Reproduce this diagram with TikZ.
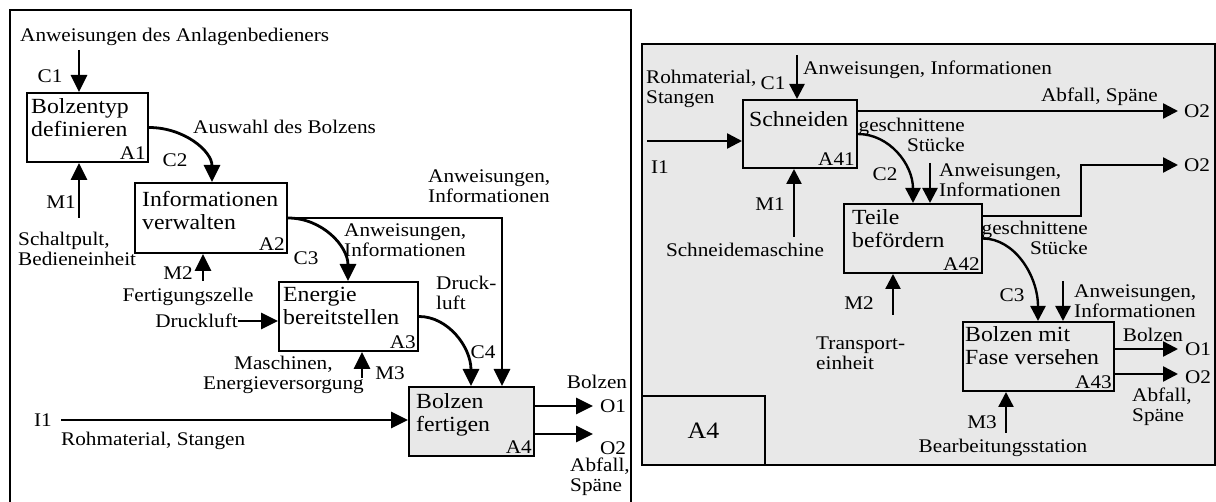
\documentclass[tikz,border=0pt]{standalone}
\usepackage{fontspec}
\setmainfont{Liberation Serif}[FakeStretch=1.1]
\usetikzlibrary{arrows.meta,calc}
\newcommand\lblfont{\fontsize{19.3}{20}\selectfont}
\newcommand\boxfont{\fontsize{21.6}{23}\selectfont}
\newcommand\tabfont{\fontsize{23.5}{25}\selectfont}
\definecolor{panelgray}{HTML}{E8E8E8}

\begin{document}
\begin{tikzpicture}[x=1pt,y=-1pt,
  pbox/.style={draw, line width=2pt, rectangle, inner sep=0pt},
  ptitle/.style={anchor=north west, align=left, inner sep=0pt, font=\boxfont},
  pnum/.style={anchor=south east, inner sep=0pt, font=\lblfont},
  lbl/.style={inner sep=0pt, font=\lblfont},
  arrL/.style={line width=2.8pt, -{Triangle[length=17pt,width=16pt]}},
  arrR/.style={line width=2.4pt, -{Triangle[length=15pt,width=15pt]}},
]
\useasboundingbox (0,0) rectangle (1216,502);

% ---------------- Left sheet: A0 overview ----------------
\draw[line width=1.6pt] (10,510) -- (10,10) -- (631,10) -- (631,510);

\node[pbox, minimum width=121pt, minimum height=69pt] (a1) at (87.5,127.5) {};
\node[pbox, minimum width=152pt, minimum height=70pt] (a2) at (211,218) {};
\node[pbox, minimum width=139pt, minimum height=69pt] (a3) at (348.5,316.5) {};
\node[pbox, minimum width=125pt, minimum height=69pt, fill=panelgray] (a4) at (471.5,421.5) {};

\node[ptitle] (a1t) at ($(a1.north west)+(5,6)$) {Bolzentyp\\definieren};
\node[ptitle] (a2t) at ($(a2.north west)+(8,9)$) {Informationen\\verwalten};
\node[ptitle] (a3t) at ($(a3.north west)+(5,6)$) {Energie\\bereitstellen};
\node[ptitle] (a4t) at ($(a4.north west)+(8,7)$) {Bolzen\\fertigen};
\node[pnum] (a1n) at ($(a1.south east)+(-3,-3)$) {A1};
\node[pnum] (a2n) at ($(a2.south east)+(-3,-3)$) {A2};
\node[pnum] (a3n) at ($(a3.south east)+(-3,-3)$) {A3};
\node[pnum] (a4n) at ($(a4.south east)+(-3,-3)$) {A4};

% labels
\node[lbl, anchor=west] (lc1t) at (20,37) {Anweisungen des Anlagenbedieners};
\node[lbl] (lc1) at (50,76) {C1};
\node[lbl] (lm1) at (61,202) {M1};
\node[lbl, anchor=west, align=left] (lm1t) at (18,249) {Schaltpult,\\Bedieneinheit};
\node[lbl, anchor=west] (lc2t) at (193,127) {Auswahl des Bolzens};
\node[lbl] (lc2) at (175,160) {C2};
\node[lbl] (lm2) at (178,273) {M2};
\node[lbl] (lm2t) at (188,297) {Fertigungszelle};
\node[lbl, anchor=east] (ldl) at (238,321) {Druckluft};
\node[lbl] (lc3) at (306,258) {C3};
\node[lbl, anchor=west, align=left] (lc3t) at (344,240) {Anweisungen,\\Informationen};
\node[lbl, anchor=west, align=left] (lc4a) at (428,186) {Anweisungen,\\Informationen};
\node[lbl, anchor=west, align=left] (lc4b) at (436,293) {Druck-\\luft};
\node[lbl] (lc4) at (483,352) {C4};
\node[lbl] (lm3) at (390,373) {M3};
\node[lbl, anchor=east, align=center] (lm3t) at (364,375) {Maschinen,\\Energieversorgung};
\node[lbl] (li1) at (43,420) {I1};
\node[lbl, anchor=west] (li1t) at (61,441) {Rohmaterial, Stangen};
\node[lbl] (lo1t) at (597,382) {Bolzen};
\node[lbl] (lo1) at (613,406) {O1};
\node[lbl] (lo2) at (613,448) {O2};
\node[lbl, anchor=west, align=left] (lo2t) at (570,477) {Abfall,\\Späne};

% connectors
\coordinate (c1s) at (79,50);
\coordinate (m1s) at (79,218);
\coordinate (c2x) at (212,0);
\coordinate (m2s) at (203,281);
\coordinate (c3x) at (348,0);
\coordinate (k4x) at (502,0);
\coordinate (c4x) at (471,0);
\coordinate (m3s) at (362,378);
\coordinate (i1s) at (61,420);
\coordinate (o1e) at (593,406);
\coordinate (o2e) at (593,434);

\draw[arrL] (c1s) -- (c1s |- a1.north);
\draw[arrL] (m1s) -- (m1s |- a1.south);
\draw[arrL] (a1.east) .. controls ($(a1.east)+(35,0)$) and ($(c2x |- a2.north)+(0,-31)$) .. (c2x |- a2.north);
\draw[arrL] (m2s) -- (m2s |- a2.south);
\draw[arrL] (ldl.east) -- (ldl.east -| a3.west);
\draw[arrL] (a2.east) .. controls ($(a2.east)+(34,0)$) and ($(c3x |- a3.north)+(0,-35)$) .. (c3x |- a3.north);
\draw[arrL] (a2.east) -- (a2.east -| k4x) -- (k4x |- a4.north);
\draw[arrL] (a3.east) .. controls ($(a3.east)+(29,0)$) and ($(c4x |- a4.north)+(0,-39)$) .. (c4x |- a4.north);
\draw[arrL] (m3s) -- (m3s |- a3.south);
\draw[arrL] (i1s) -- (i1s -| a4.west);
\draw[arrL] (o1e -| a4.east) -- (o1e);
\draw[arrL] (o2e -| a4.east) -- (o2e);

% ---------------- Right sheet: A4 decomposition ----------------
\draw[line width=2pt, fill=panelgray] (642,44) rectangle (1214.5,465);
\node[draw, line width=2pt, fill=panelgray, minimum width=123pt, minimum height=69pt, font=\tabfont] (tab) at (703.5,430.5) {A4};

\node[pbox, minimum width=114pt, minimum height=68pt] (b41) at (800,134) {};
\node[pbox, minimum width=138pt, minimum height=69pt] (b42) at (913,238.5) {};
\node[pbox, minimum width=151pt, minimum height=69pt] (b43) at (1038.5,356.5) {};

\node[ptitle] (b41t) at ($(b41.north west)+(7,12)$) {Schneiden};
\node[ptitle] (b42t) at ($(b42.north west)+(9,6)$) {Teile\\befördern};
\node[ptitle] (b43t) at ($(b43.north west)+(3,5)$) {Bolzen mit\\Fase versehen};
\node[pnum] (b41n) at ($(b41.south east)+(-3,-3)$) {A41};
\node[pnum] (b42n) at ($(b42.south east)+(-3,-3)$) {A42};
\node[pnum] (b43n) at ($(b43.south east)+(-3,-3)$) {A43};

% labels
\node[lbl, anchor=west, align=left] (ri1t) at (646,89) {Rohmaterial,\\Stangen};
\node[lbl] (rc1) at (773,83) {C1};
\node[lbl, anchor=west] (rc1t) at (803,70) {Anweisungen, Informationen};
\node[lbl] (ri1) at (660,167) {I1};
\node[lbl] (rm1) at (770,204) {M1};
\node[lbl] (rm1t) at (745,250) {Schneidemaschine};
\node[lbl, anchor=east] (ro2at) at (1158,97) {Abfall, Späne};
\node[lbl] (ro2a) at (1197,111) {O2};
\node[lbl, anchor=east, align=right] (rgs1) at (965,135) {geschnittene\\Stücke};
\node[lbl] (rc2) at (885,174) {C2};
\node[lbl, anchor=west, align=left] (rk2t) at (939,180) {Anweisungen,\\Informationen};
\node[lbl] (ro2b) at (1197,165) {O2};
\node[lbl, anchor=east, align=right] (rgs2) at (1088,238) {geschnittene\\Stücke};
\node[lbl] (rm2) at (859,303) {M2};
\node[lbl, anchor=west, align=left] (rm2t) at (816,353) {Transport-\\einheit};
\node[lbl] (rc3) at (1012,295) {C3};
\node[lbl, anchor=west, align=left] (rk3t) at (1074,301) {Anweisungen,\\Informationen};
\node[lbl] (ro1t) at (1153,335) {Bolzen};
\node[lbl] (ro1) at (1198,349) {O1};
\node[lbl] (ro2c) at (1198,377) {O2};
\node[lbl, anchor=west, align=left] (ro2ct) at (1132,407) {Abfall,\\Späne};
\node[lbl] (rm3) at (982,422) {M3};
\node[lbl] (rm3t) at (1003,448) {Bearbeitungsstation};

% connectors
\coordinate (rc1s) at (797,55);
\coordinate (ri1s) at (647,141);
\coordinate (rm1s) at (794,237);
\coordinate (ro2ae) at (1178,111);
\coordinate (rc2x) at (913,0);
\coordinate (rk2s) at (930,163);
\coordinate (rout2) at ($(b42.north east)+(0,13)$);
\coordinate (rbend) at (1081,0);
\coordinate (ro2be) at (1178,165);
\coordinate (rc3x) at (1038,0);
\coordinate (rk3s) at (1063,281);
\coordinate (rm2s) at (893,315);
\coordinate (rm3s) at (1006,433);
\coordinate (ro1e) at (1178,349);
\coordinate (ro2ce) at (1178,374);

\draw[arrR] (rc1s) -- (rc1s |- b41.north);
\draw[arrR] (ri1s) -- (ri1s -| b41.west);
\draw[arrR] (rm1s) -- (rm1s |- b41.south);
\draw[arrR] (ro2ae -| b41.east) -- (ro2ae);
\draw[arrR] (b41.east) .. controls ($(b41.east)+(31,0)$) and ($(rc2x |- b42.north)+(0,-39)$) .. (rc2x |- b42.north);
\draw[arrR] (rk2s) -- (rk2s |- b42.north);
\draw[arrR] (rout2) -- (rout2 -| rbend) -- (rbend |- ro2be) -- (ro2be);
\draw[arrR] (rm2s) -- (rm2s |- b42.south);
\draw[arrR] (b42.east) .. controls ($(b42.east)+(31,0)$) and ($(rc3x |- b43.north)+(0,-46)$) .. (rc3x |- b43.north);
\draw[arrR] (rk3s) -- (rk3s |- b43.north);
\draw[arrR] (ro1e -| b43.east) -- (ro1e);
\draw[arrR] (ro2ce -| b43.east) -- (ro2ce);
\draw[arrR] (rm3s) -- (rm3s |- b43.south);
\end{tikzpicture}
\end{document}
